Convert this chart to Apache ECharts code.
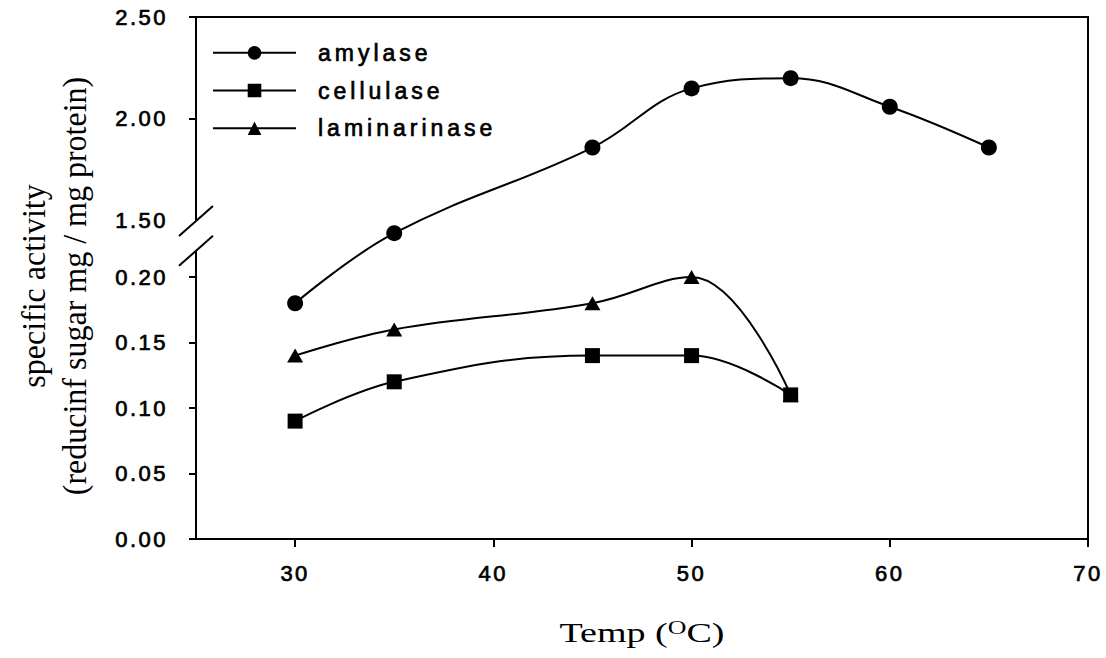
<!DOCTYPE html>
<html>
<head>
<meta charset="utf-8">
<script src="https://cdn.jsdelivr.net/npm/echarts@6/dist/echarts.min.js"></script>
<style>
  html, body { margin: 0; padding: 0; background: #fff; }
  #chart { width: 1106px; height: 658px; }
  /* wide-set sans labels */
  #chart text[style*="Liberation Sans"] { letter-spacing: 2.5px; }
  #chart text[style*="Liberation Sans"][style*="23px"] { letter-spacing: 4px; }
</style>
</head>
<body>
<div id="chart"></div>
<script>
// ---- data ----
const amylaseTemp = [30, 35, 45, 50, 55, 60, 65];
const amylase = [0.18, 1.44, 1.86, 2.15, 2.20, 2.06, 1.86];

const cellulaseTemp = [30, 35, 45, 50, 55];
const cellulase = [0.09, 0.12, 0.14, 0.14, 0.11];

const laminarinaseTemp = [30, 35, 45, 50, 55];
const laminarinase = [0.14, 0.16, 0.18, 0.20, 0.11];

const xTicks = [30, 40, 50, 60, 70];
const yTicksLower = [0.00, 0.05, 0.10, 0.15, 0.20];
const yTicksUpper = [1.50, 2.00, 2.50];

// ---- broken value axis: lower segment 0..0.22, upper segment 1.40..2.50 ----
const BREAK_LO = 0.22;
const BREAK_HI = 1.40;
const UPPER_REF = 1.50;
const UPPER_BASE = 0.2428;   // axis position of 1.50 (in lower-segment units)
const UPPER_RATIO = 0.1557;  // upper-segment compression

function toAxis(v) {
  if (v <= BREAK_LO) return v;
  const hiPos = UPPER_BASE + (BREAK_HI - UPPER_REF) * UPPER_RATIO;
  if (v >= BREAK_HI) return UPPER_BASE + (v - UPPER_REF) * UPPER_RATIO;
  return BREAK_LO + (v - BREAK_LO) / (BREAK_HI - BREAK_LO) * (hiPos - BREAK_LO);
}

const yTicks = yTicksLower.concat(yTicksUpper);
const yTickPos = yTicks.map(toAxis);
const yTickMarks = yTicksLower.concat(yTicksUpper.slice(1)).map(toAxis);
const yMax = toAxis(yTicksUpper[yTicksUpper.length - 1]);

function yLabel(pos) {
  for (let i = 0; i < yTicks.length; i++) {
    if (Math.abs(yTickPos[i] - pos) < 1e-6) return yTicks[i].toFixed(2);
  }
  return '';
}

function pairs(xs, ys) {
  return xs.map((x, i) => [x, toAxis(ys[i])]);
}

const SANS = 'Liberation Sans';
const SERIF = 'Liberation Serif';
const INK = { textBorderColor: '#000', textBorderWidth: 0.7 };

function lineSeries(name, xs, ys, symbol, size) {
  return {
    name: name,
    type: 'line',
    data: pairs(xs, ys),
    smooth: 0.4,
    symbol: symbol,
    symbolSize: size,
    showAllSymbol: true,
    itemStyle: { color: '#000' },
    lineStyle: { color: '#000', width: 2 },
    emphasis: { disabled: true }
  };
}

const chart = echarts.init(document.getElementById('chart'), null, { renderer: 'svg' });

chart.setOption({
  animation: false,
  backgroundColor: '#fff',
  grid: {
    left: 196, right: 18, top: 17, bottom: 119,
    show: true, borderColor: '#000', borderWidth: 2, backgroundColor: 'transparent'
  },
  legend: {
    orient: 'vertical',
    left: 212,
    top: 41,
    padding: 0,
    itemWidth: 83,
    itemHeight: 17,
    itemGap: 14,
    selectedMode: false,
    data: ['amylase', 'cellulase', 'laminarinase'],
    textStyle: Object.assign({ fontFamily: SANS, fontSize: 23, color: '#000', lineHeight: 23, padding: [0, 0, 0, 17] }, INK)
  },
  xAxis: {
    type: 'value',
    min: 25,
    max: 70,
    splitLine: { show: false },
    axisLine: { lineStyle: { color: '#000', width: 2 } },
    axisTick: { customValues: xTicks, length: 8, lineStyle: { color: '#000', width: 2 } },
    axisLabel: Object.assign({ customValues: xTicks, margin: 23, color: '#000', fontFamily: SANS, fontSize: 22 }, INK)
  },
  yAxis: {
    type: 'value',
    min: 0,
    max: yMax,
    splitLine: { show: false },
    axisLine: { lineStyle: { color: '#000', width: 2 } },
    axisTick: { customValues: yTickMarks, length: 7, lineStyle: { color: '#000', width: 2 } },
    axisLabel: Object.assign({
      customValues: yTickPos, margin: 28, color: '#000', fontFamily: SANS, fontSize: 22,
      formatter: yLabel
    }, INK)
  },
  series: [
    lineSeries('amylase', amylaseTemp, amylase, 'circle', 16),
    lineSeries('laminarinase', laminarinaseTemp, laminarinase, 'triangle', [16, 14]),
    lineSeries('cellulase', cellulaseTemp, cellulase, 'rect', 15)
  ]
});

// ---- break marks on the value axis and axis titles ----
const xMin = 25, xMax = 70;
const pUpper = chart.convertToPixel({ gridIndex: 0 }, [xMin, toAxis(UPPER_REF)]);
const pLower = chart.convertToPixel({ gridIndex: 0 }, [xMin, BREAK_LO]);
const pBottom = chart.convertToPixel({ gridIndex: 0 }, [(xMin + xMax) / 2, 0]);
const pTop = chart.convertToPixel({ gridIndex: 0 }, [xMin, yMax]);

function slash(cx, cy) {
  return {
    type: 'line', z: 60,
    shape: { x1: cx - 17, y1: cy + 15, x2: cx + 17, y2: cy - 15 },
    style: { stroke: '#000', lineWidth: 2 }
  };
}

chart.setOption({
  graphic: [
    {
      type: 'rect', z: 50,
      shape: { x: pUpper[0] - 5, y: pUpper[1], width: 10, height: pLower[1] - pUpper[1] },
      style: { fill: '#fff' }
    },
    slash(pUpper[0], pUpper[1]),
    slash(pLower[0], pLower[1]),
    {
      type: 'text', z: 60,
      x: pBottom[0], y: pBottom[1] + 93,
      scaleX: 1.36,
      style: {
        text: 'Temp ({sup|O}C)',
        fontFamily: SERIF, fontSize: 28, fill: '#000',
        align: 'center', verticalAlign: 'middle',
        rich: { sup: { fontFamily: SERIF, fontSize: 19, verticalAlign: 'top', fill: '#000' } }
      }
    },
    {
      type: 'text', z: 60,
      x: 54, y: (pTop[1] + pBottom[1]) / 2 + 8,
      rotation: Math.PI / 2,
      scaleY: 1.08,
      style: {
        text: 'specific activity\n(reducinf sugar mg / mg protein)',
        fontFamily: SERIF, fontSize: 32, lineHeight: 38, fill: '#000',
        align: 'center', verticalAlign: 'middle'
      }
    }
  ]
});
</script>
</body>
</html>
